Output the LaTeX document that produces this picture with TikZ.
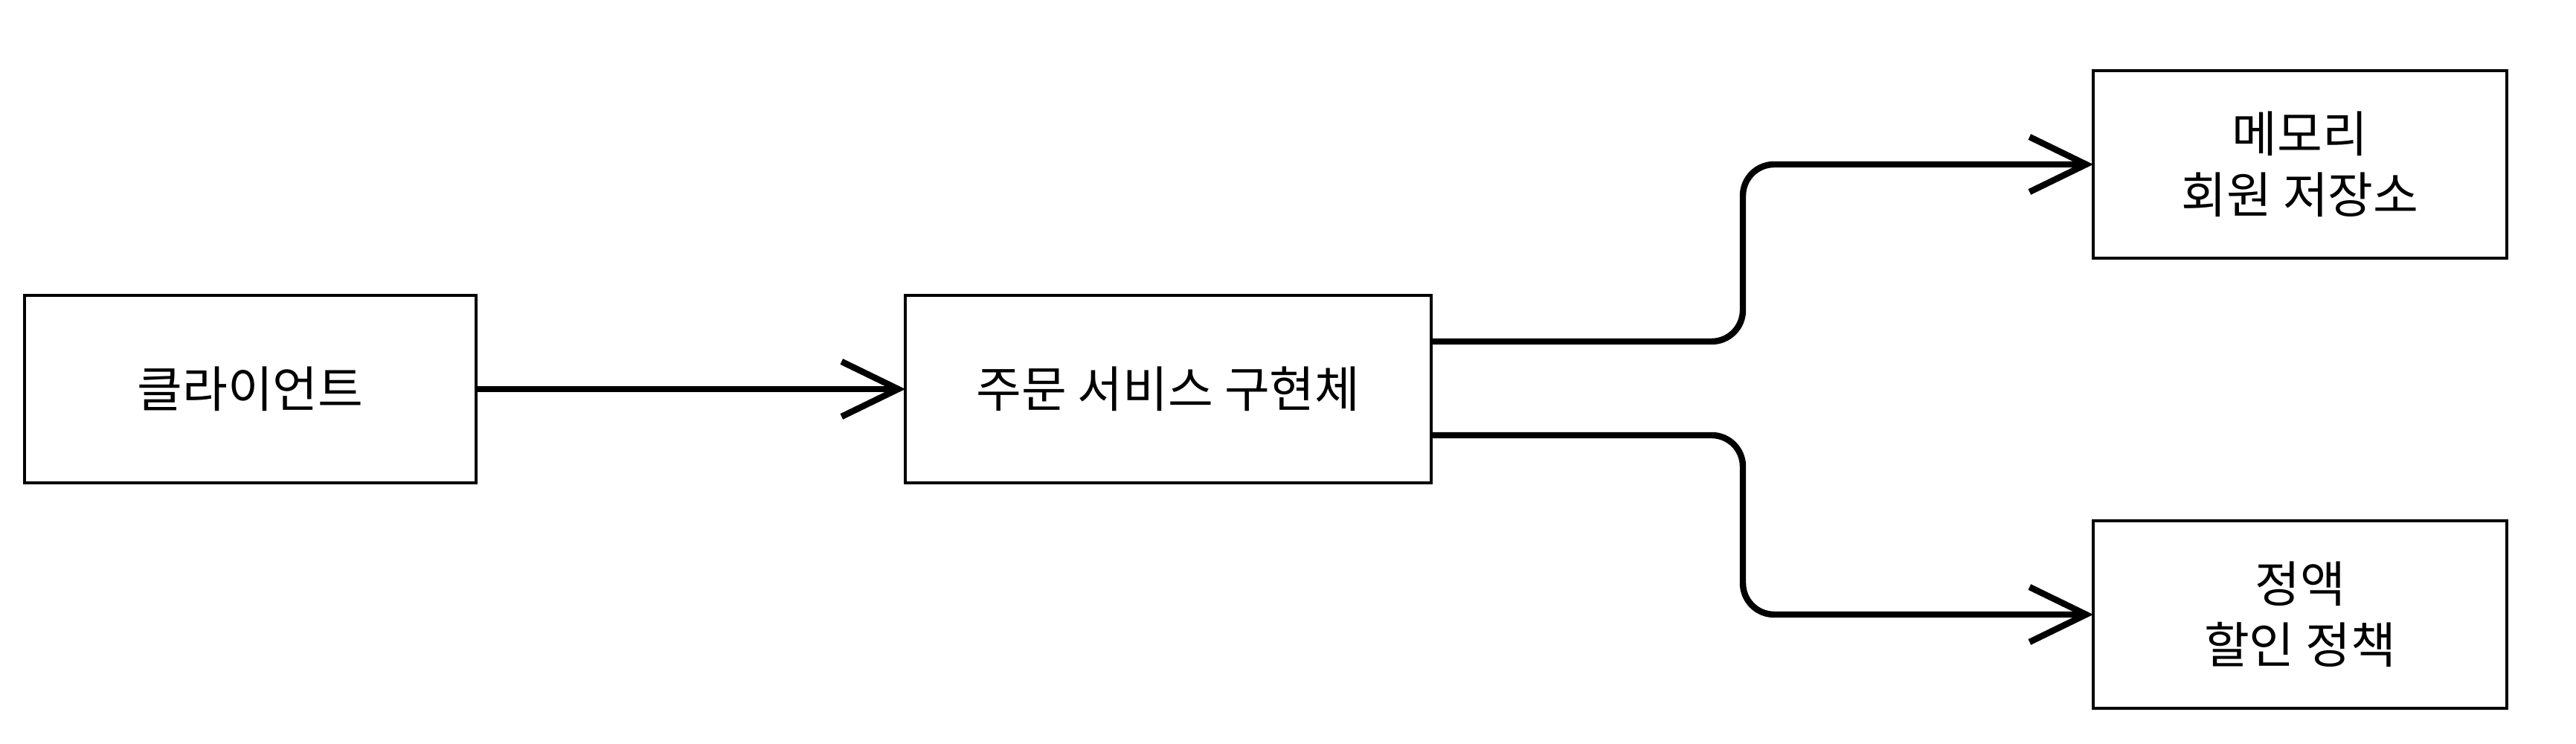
\documentclass[tikz,border=0pt]{standalone}
\usepackage{fontspec}
\newfontfamily\kr{Noto Sans CJK KR}
\usetikzlibrary{arrows.meta}
\begin{document}
\begin{tikzpicture}[
  box/.style={draw=black, line width=1.2pt, fill=white, minimum height=2.52cm,
    inner sep=0pt, outer sep=0pt, align=center,
    font=\kr\fontsize{18.8}{23.3}\selectfont},
  conn/.style={draw=black, line width=2.4pt,
    -{Straight Barb[length=7.6mm,width=7.4mm,line width=2.4pt]}}
]
\useasboundingbox (0,0) rectangle (34.63,10);
\node[box, minimum width=6.07cm] (A) at (3.365,4.77) {클라이언트};
\node[box, minimum width=7.07cm] (B) at (15.705,4.77) {주문 서비스 구현체};
\node[box, minimum width=5.56cm] (C) at (30.92,7.79) {메모리\\회원 저장소};
\node[box, minimum width=5.56cm] (D) at (30.92,1.74) {정액\\할인 정책};
\draw[conn] (A) -- (B);
\draw[conn, rounded corners=0.42cm] ([yshift=0.64cm]B.east) -- ++(4.19,0) |- (C.west);
\draw[conn, rounded corners=0.42cm] ([yshift=-0.62cm]B.east) -- ++(4.19,0) |- (D.west);
\end{tikzpicture}
\end{document}
